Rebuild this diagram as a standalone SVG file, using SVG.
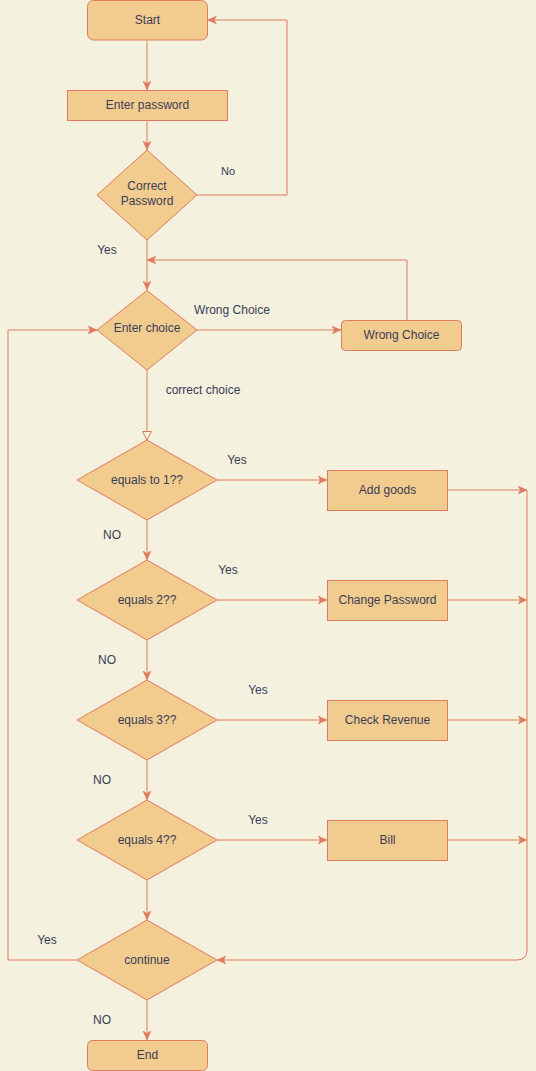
<svg xmlns="http://www.w3.org/2000/svg" width="536" height="1071" viewBox="0 0 536 1071">
<style>
.bg{fill:#F4F1DE}
.n{fill:#F2CC8F;stroke:#E07A5F;stroke-width:1}
.t{font-family:"Liberation Sans",Arial,sans-serif;font-size:12px;fill:#393C56;text-anchor:middle;dominant-baseline:central}
.l{font-family:"Liberation Sans",Arial,sans-serif;font-size:12px;fill:#393C56;text-anchor:middle;dominant-baseline:central}
.c{fill:none;stroke:#E07A5F;stroke-width:1}
.a{marker-end:url(#arr)}
</style>
<defs>
<marker id="arr" markerUnits="userSpaceOnUse" markerWidth="10" markerHeight="8" refX="9" refY="4" orient="auto">
<path d="M0,0 L9,4 L0,8 L2.5,4 Z" fill="#E07A5F" stroke="#E07A5F" stroke-width="0.5"/>
</marker>
<marker id="open" markerUnits="userSpaceOnUse" markerWidth="10" markerHeight="10" refX="9" refY="5" orient="auto">
<path d="M0.5,0.5 L9,5 L0.5,9.5 Z" fill="#F4F1DE" stroke="#E07A5F" stroke-width="1"/>
</marker>
</defs>
<rect class="bg" x="0" y="0" width="536" height="1071"/>
<g id="connectors">
<path class="c a" d="M147,40.5 V90"/>
<path class="c a" d="M147,120.5 V150"/>
<path class="c a" d="M197,195 H287 V20 H207.5"/>
<path class="c a" d="M147,240 V290"/>
<path class="c a" d="M197,330 H341"/>
<path class="c a" d="M407,320 V260 H147"/>
<path class="c" d="M147,370 V440" marker-end="url(#open)"/>
<path class="c a" d="M77,960 H8 V330 H97"/>
<path class="c a" d="M217,480 H327"/>
<path class="c a" d="M217,600 H327"/>
<path class="c a" d="M217,720 H327"/>
<path class="c a" d="M217,840 H327"/>
<path class="c a" d="M447.5,490 H527"/>
<path class="c a" d="M447.5,600 H527"/>
<path class="c a" d="M447.5,720 H527"/>
<path class="c a" d="M447.5,840 H527"/>
<path class="c a" d="M527,490 V950 Q527,960 517,960 H217"/>
<path class="c a" d="M147,520 V560"/>
<path class="c a" d="M147,640 V680"/>
<path class="c a" d="M147,760 V800"/>
<path class="c a" d="M147,880 V920"/>
<path class="c a" d="M147,1000 V1040"/>
<text class="l" x="228" y="170.5" style="font-size:11px">No</text>
<text class="l" x="107" y="249.5">Yes</text>
<text class="l" x="232" y="309.5">Wrong Choice</text>
<text class="l" x="203" y="389.5">correct choice</text>
<text class="l" x="237" y="459.5">Yes</text>
<text class="l" x="112" y="534.5">NO</text>
<text class="l" x="228" y="569.5">Yes</text>
<text class="l" x="107" y="659.5">NO</text>
<text class="l" x="258" y="689.5">Yes</text>
<text class="l" x="102" y="779.5">NO</text>
<text class="l" x="258" y="819.5">Yes</text>
<text class="l" x="47" y="939.5">Yes</text>
<text class="l" x="102" y="1019.5">NO</text>
</g>
<g id="start"><rect class="n" x="87.5" y="0.5" width="120" height="39.5" rx="6"/><text class="t" x="147.5" y="20">Start</text></g>
<g id="enter-password"><rect class="n" x="67.5" y="90.5" width="160" height="30"/><text class="t" x="147.5" y="105">Enter password</text></g>
<g id="correct-password"><path class="n" d="M147,150 L197,195 L147,240 L97,195 Z"/><text class="t" x="147" y="186">Correct</text><text class="t" x="147" y="201">Password</text></g>
<g id="enter-choice"><path class="n" d="M147,290.5 L197,330 L147,370 L97,330 Z"/><text class="t" x="147" y="328">Enter choice</text></g>
<g id="wrong-choice"><rect class="n" x="341.5" y="320.5" width="120" height="30" rx="4"/><text class="t" x="401.5" y="335">Wrong Choice</text></g>
<g id="equals1"><path class="n" d="M147,440 L217,480 L147,520 L77,480 Z"/><text class="t" x="147" y="480">equals to 1??</text></g>
<g id="add-goods"><rect class="n" x="327.5" y="470.5" width="120" height="40"/><text class="t" x="387.5" y="490">Add goods</text></g>
<g id="equals2"><path class="n" d="M147,560 L217,600 L147,640 L77,600 Z"/><text class="t" x="147" y="600">equals 2??</text></g>
<g id="change-password"><rect class="n" x="327.5" y="580.5" width="120" height="40"/><text class="t" x="387.5" y="600">Change Password</text></g>
<g id="equals3"><path class="n" d="M147,680 L217,720 L147,760 L77,720 Z"/><text class="t" x="147" y="720">equals 3??</text></g>
<g id="check-revenue"><rect class="n" x="327.5" y="700.5" width="120" height="40"/><text class="t" x="387.5" y="720">Check Revenue</text></g>
<g id="equals4"><path class="n" d="M147,800 L217,840 L147,880 L77,840 Z"/><text class="t" x="147" y="840">equals 4??</text></g>
<g id="bill"><rect class="n" x="327.5" y="820.5" width="120" height="40"/><text class="t" x="387.5" y="840">Bill</text></g>
<g id="continue"><path class="n" d="M147,920 L217,960 L147,1000 L77,960 Z"/><text class="t" x="147" y="960">continue</text></g>
<g id="end"><rect class="n" x="87.5" y="1040.5" width="120" height="30" rx="5"/><text class="t" x="147.5" y="1055">End</text></g>
</svg>
